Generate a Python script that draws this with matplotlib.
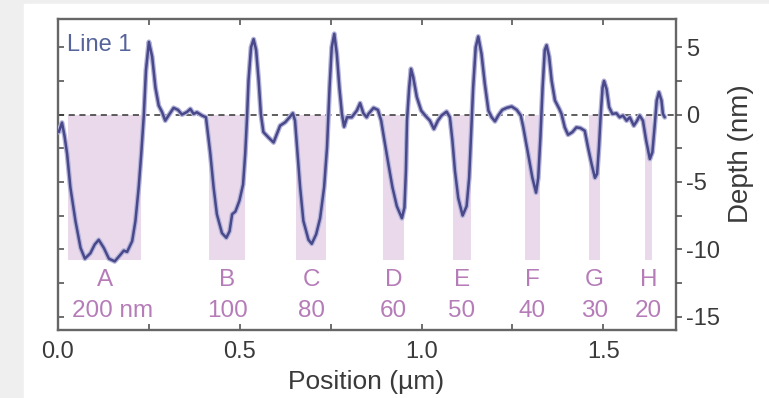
import matplotlib
matplotlib.use("Agg")
import matplotlib.pyplot as plt
from matplotlib.patches import Rectangle
from matplotlib.ticker import MultipleLocator, NullFormatter

# AFM line profile across the trench array
position_um = [
    0.002, 0.011, 0.018, 0.025, 0.034, 0.048, 0.062, 0.074, 0.089, 0.101,
    0.112, 0.126, 0.140, 0.156, 0.172, 0.181, 0.190, 0.204, 0.213, 0.222,
    0.229, 0.236, 0.242, 0.250, 0.259, 0.268, 0.277, 0.286, 0.295, 0.304,
    0.318, 0.330, 0.341, 0.355, 0.364, 0.373, 0.382, 0.396, 0.407,
    0.419, 0.428, 0.437, 0.451, 0.463, 0.472, 0.479, 0.488, 0.499, 0.509,
    0.515, 0.520, 0.524, 0.531, 0.538, 0.545, 0.552, 0.558, 0.565, 0.579,
    0.593, 0.602, 0.611, 0.625, 0.637, 0.646, 0.652, 0.659, 0.666, 0.675,
    0.689, 0.698, 0.710, 0.721, 0.732, 0.740, 0.747, 0.753, 0.760, 0.767,
    0.774, 0.781, 0.787, 0.795, 0.808, 0.822, 0.831, 0.840, 0.849,
    0.854, 0.868, 0.880, 0.889, 0.898, 0.909, 0.920, 0.932, 0.946, 0.953,
    0.957, 0.960, 0.966, 0.971, 0.977, 0.987, 0.999, 1.010, 1.023, 1.034,
    1.045, 1.055, 1.069, 1.078, 1.085, 1.092, 1.101, 1.113, 1.124, 1.131,
    1.136, 1.142, 1.149, 1.156, 1.165, 1.174, 1.184, 1.193, 1.202, 1.211,
    1.222, 1.234, 1.248, 1.262, 1.273,
    1.280, 1.293, 1.305, 1.315, 1.321, 1.327, 1.333, 1.339, 1.344, 1.351,
    1.358, 1.367, 1.379, 1.385, 1.394, 1.403, 1.415, 1.426, 1.437, 1.449,
    1.458, 1.468, 1.477, 1.483, 1.488, 1.493, 1.498, 1.502, 1.509, 1.516,
    1.525, 1.536, 1.545, 1.554, 1.564, 1.573, 1.584, 1.593, 1.600, 1.609,
    1.618, 1.628, 1.635, 1.641, 1.647, 1.653, 1.660, 1.664, 1.669,
]
depth_nm = [
    -1.3, -0.6, -1.6, -2.9, -5.4, -7.9, -9.9, -10.7, -10.3, -9.65,
    -9.3, -9.9, -10.7, -10.9, -10.4, -10.1, -10.2, -9.4, -7.9, -5.4,
    -2.9, -0.07, 3.3, 5.4, 4.3, 2.0, 0.67, 0.2, -0.45, -0.07,
    0.5, 0.35, 0.0, 0.2, 0.42, 0.05, 0.17, -0.07, -0.2,
    -2.9, -5.4, -7.4, -8.8, -9.15, -8.66, -7.4, -7.2, -6.4, -5.2,
    -2.9, -0.2, 2.5, 5.0, 5.6, 4.8, 2.5, 0.05, -1.3, -1.7,
    -2.07, -1.44, -0.82, -0.57, -0.2, 0.1, -0.45, -2.9, -5.4, -7.9,
    -9.3, -9.6, -8.9, -7.7, -5.4, -2.44, 2.0, 5.0, 6.0, 4.5,
    2.0, 0.05, -0.9, -0.2, -0.2, 0.3, 0.85, 0.1, -0.2,
    0.05, 0.5, 0.35, -0.45, -1.94, -3.7, -5.4, -6.8, -7.7, -6.9,
    -4.2, -0.45, 2.0, 3.4, 2.8, 1.3, 0.3, -0.07, -0.45, -1.07,
    -0.45, -0.07, 0.22, -0.2, -1.94, -4.2, -6.2, -7.5, -6.8, -4.7,
    -1.7, 2.0, 5.0, 5.8, 4.5, 2.3, 0.3, -0.2, -0.5, -0.07,
    0.35, 0.5, 0.6, 0.35, -0.07,
    -0.95, -2.9, -4.7, -5.8, -4.7, -1.7, 2.0, 4.8, 5.15, 4.3,
    2.5, 1.05, 0.42, 0.05, -0.95, -1.5, -1.3, -0.95, -1.0, -1.2,
    -2.44, -3.7, -4.7, -4.4, -2.44, 0.05, 2.0, 2.5, 1.9, 0.55,
    0.05, 0.1, -0.2, -0.07, -0.45, -0.2, -0.82, -0.45, -0.07, -0.45,
    -1.94, -3.3, -2.8, -0.95, 1.05, 1.66, 1.05, 0.05, -0.2,
]

# Trench designations, nominal widths (nm) and centre positions (µm)
trench_names = ["A", "B", "C", "D", "E", "F", "G", "H"]
trench_width_nm = [200, 100, 80, 60, 50, 40, 30, 20]
trench_center_um = [0.128, 0.465, 0.696, 0.923, 1.111, 1.305, 1.475, 1.625]
trench_labels = ["200 nm", "100", "80", "60", "50", "40", "30", "20"]
shade_depth_nm = -10.8

plt.rcParams["font.family"] = ["Liberation Sans", "DejaVu Sans"]
FS = 17
TXT = "#3a3a3a"
PINK = "#b57cb8"

fig = plt.figure(figsize=(7.69, 3.98), dpi=100, facecolor="#efefef")
fig.patches.append(Rectangle((24 / 769, 0), 1, 1 - 4 / 398,
                             transform=fig.transFigure, color="white",
                             zorder=-10))

ax = fig.add_axes([58 / 769, 1 - 330 / 398, 618 / 769, 311 / 398])
ax.set_facecolor("white")

# shaded trench footprints
ax.bar(trench_center_um, shade_depth_nm,
       width=[w / 1000 for w in trench_width_nm],
       color="#ead9eb", edgecolor="none", zorder=1)

ax.axhline(0, color="#333333", lw=1.1, ls=(0, (4, 3)), zorder=2)

ax.plot(position_um, depth_nm, color="#b4b4da", lw=3.6, zorder=3,
        solid_joinstyle="round", solid_capstyle="round")
ax.plot(position_um, depth_nm, color="#48488a", lw=1.8, zorder=4,
        solid_joinstyle="round", solid_capstyle="round")

for i, (c, name, lab) in enumerate(zip(trench_center_um, trench_names,
                                        trench_labels)):
    ax.text(c, -12.3, name, color=PINK, fontsize=17.5, ha="center", va="center")
    ax.annotate(lab, (c, -14.6), xytext=(6 if i == 0 else 0, 0),
                textcoords="offset points", color=PINK, fontsize=17.5,
                ha="center", va="center")

ax.text(0.015, 0.915, "Line 1", transform=ax.transAxes, color="#56649a",
        fontsize=FS, ha="left", va="center")

ax.set_xlim(0, 1.70)
ax.set_ylim(-16.0, 7.1)

for s in ax.spines.values():
    s.set_color("#666666")
    s.set_linewidth(1.7)

ax.xaxis.set_major_locator(MultipleLocator(0.5))
ax.xaxis.set_minor_locator(MultipleLocator(0.25))
ax.xaxis.set_major_formatter(plt.FuncFormatter(lambda v, p: f"{v:.1f}"))
ax.tick_params(axis="x", which="both", direction="in", top=True, bottom=True,
               length=4, width=1.2, color="#555555")
ax.tick_params(axis="x", which="major", labelsize=FS, labelcolor=TXT, pad=8)

ax.yaxis.set_major_locator(MultipleLocator(2.5))
ax.yaxis.set_major_formatter(NullFormatter())
ax.tick_params(axis="y", which="both", direction="in", left=True, right=False,
               length=4, width=1.2, color="#555555")

ax2 = ax.twinx()
ax2.set_ylim(ax.get_ylim())
ax2.yaxis.set_major_locator(MultipleLocator(5))
ax2.yaxis.set_minor_locator(MultipleLocator(2.5))
ax2.yaxis.set_major_formatter(plt.FuncFormatter(lambda v, p: f"{v:g}".replace("\u2212", "-")))
ax2.tick_params(axis="y", which="both", direction="out", length=4, width=1.2,
                color="#555555")
ax2.tick_params(axis="y", which="major", labelsize=FS, labelcolor=TXT, pad=3)
for s in ax2.spines.values():
    s.set_visible(False)

fig.text(366 / 769, 1 - 382 / 398, "Position (µm)", fontsize=19, color=TXT,
         ha="center", va="center")
fig.text(741 / 769, 1 - 154 / 398, "Depth (nm)", fontsize=20, color=TXT,
         ha="center", va="center", rotation=90)

fig.savefig("out.png", dpi=100, facecolor=fig.get_facecolor())
